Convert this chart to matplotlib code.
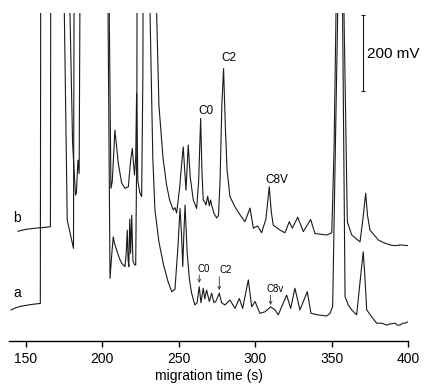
import matplotlib
matplotlib.use("Agg")
import matplotlib.pyplot as plt

plt.rcParams['font.family'] = ['Liberation Sans', 'DejaVu Sans']

# trace a (lower electropherogram): migration time (s), signal (mV)
a_t = [140.2, 143, 146, 150, 155, 159.4, 159.8, 174.5, 175.1, 177.0, 181.1, 181.8,
       202.5, 204.2, 205.0, 206, 207.1, 208, 209.4, 211, 212.6, 214.8, 215.6, 216.3,
       216.8, 217.3, 217.9, 218.5, 219.2, 220, 221, 221.8, 222.5, 223.0, 230.5, 231.2,
       233, 234.4, 237, 240, 243, 245.4, 247.5, 249.5, 250.8, 251.8, 252.6, 253.4,
       254.1, 255.5, 257, 258.4, 260.5, 262, 263.4, 264.5, 266, 267, 268.2, 270,
       271.5, 273, 274.5, 276.5, 278, 280.2, 283.5, 286.8, 289.6, 291.8, 295.5, 297.7,
       299.9, 303.1, 306.4, 310.1, 313.0, 315.1, 320.6, 323.2, 326.0, 329.3, 334.1, 336.5,
       341, 346.8, 349.0, 350.7, 352.0, 354, 355.5, 357.2, 358.8, 360.9, 363.2, 366.4,
       368.5, 370.7, 371.6, 373.0, 376.2, 379.5, 382.8, 386.1, 388.2, 391.5, 393, 394.8,
       396.5, 398.0, 400.2]
a_v = [81, 86, 90, 93, 96, 98, 1500, 1500, 863, 317, 243, 1500,
       1500, 600, 164, 220, 273, 255, 238, 218, 204, 195, 230, 291,
       215, 195, 320, 230, 330, 210, 200, 199, 500, 1500, 1500, 863,
       480, 344, 260, 200, 155, 129, 135, 250, 348, 280, 195, 290,
       357, 230, 160, 125, 94, 100, 142, 100, 138, 110, 133, 103,
       125, 100, 105, 125, 100, 94, 107, 85, 111, 85, 160, 89,
       103, 72, 76, 89, 81, 68, 120, 85, 138, 81, 129, 72,
       68, 65, 72, 90, 400, 863, 1500, 863, 116, 94, 81, 68,
       150, 234, 180, 81, 63, 46, 46, 41, 44, 46, 41, 41,
       46, 46, 50]

# trace b (upper electropherogram)
b_t = [144.8, 150, 156, 162, 166.0, 166.4, 178.0, 178.8, 180.5, 182.4, 183, 184,
       184.8, 186, 203.5, 204.5, 205.6, 206.5, 208.2, 210.4, 212.6, 214.8, 217.0, 218.5,
       219.6, 220.2, 221.0, 221.8, 222.4, 223.2, 224.5, 225.7, 226.5, 227, 235, 235.5,
       237, 239.7, 242, 244, 246.4, 247.5, 248.6, 250.5, 252.0, 252.9, 254.7, 256.2,
       257.5, 259.5, 261.7, 263, 264.3, 265.2, 266, 267, 267.8, 268.9, 270, 270.8,
       271.5, 273, 274.8, 276, 277, 278.2, 279.3, 280.5, 281.6, 283.5, 286.8, 290.1,
       293.3, 296.6, 298.8, 301.6, 304.2, 307, 309.2, 310.5, 311.8, 316.2, 319.5, 322.3,
       324.3, 327.8, 331.5, 336.3, 339.1, 346.8, 350.1, 351.6, 352.9, 355, 358.1, 360.3,
       363.2, 368.6, 370.5, 372.3, 373.5, 375.1, 380.6, 384, 388.2, 391.5, 395, 400.2]
b_v = [288, 293, 296, 298, 300, 1500, 1500, 863, 520, 383, 390, 475,
       440, 1500, 1500, 863, 401, 420, 554, 467, 415, 401, 405, 475,
       506, 475, 436, 480, 651, 420, 390, 379, 700, 1500, 1500, 863,
       620, 480, 410, 370, 344, 350, 336, 400, 470, 510, 396, 515,
       430, 370, 348, 420, 585, 440, 370, 365, 357, 380, 355, 370,
       357, 335, 323, 330, 420, 620, 716, 560, 449, 379, 352, 331,
       313, 349, 296, 302, 284, 320, 405, 340, 304, 291, 284, 313,
       296, 325, 287, 319, 282, 278, 284, 500, 863, 1500, 863, 313,
       278, 260, 320, 388, 330, 291, 265, 258, 252, 250, 252, 250]

fig = plt.figure(figsize=(4.25, 3.92), dpi=100)
ax = fig.add_axes([0.0212, 0.1309, 0.9388, 0.8367])
ax.plot(a_t, a_v, color='#1a1a1a', linewidth=0.8)
ax.plot(b_t, b_v, color='#1a1a1a', linewidth=0.8)
ax.set_xlim(138.9, 400)
ax.set_ylim(0, 863)

for s in ['left', 'right', 'top']:
    ax.spines[s].set_visible(False)
ax.spines['bottom'].set_linewidth(1.0)
ax.set_yticks([])
ax.set_xticks([150, 200, 250, 300, 350, 400])
ax.tick_params(axis='x', direction='out', length=4.5, width=1.0, labelsize=10, pad=4)
ax.set_xlabel("migration time (s)", fontsize=10, labelpad=2)

# trace labels
ax.text(144.1, 323, "b", fontsize=10, ha='center', va='center')
ax.text(144.1, 126, "a", fontsize=10, ha='center', va='center')

# peak labels on b
ax.text(267.8, 605, "C0", fontsize=8.5, ha='center', va='center')
ax.text(282.9, 743, "C2", fontsize=8.5, ha='center', va='center')
ax.text(313.9, 423, "C8V", fontsize=8.5, ha='center', va='center')

# peak labels with arrows on a
arrow = dict(arrowstyle='->', lw=0.6, color='#333333', mutation_scale=5, shrinkA=0, shrinkB=0)
ax.text(266.5, 189, "C0", fontsize=7, ha='center', va='center')
ax.annotate("", xy=(263.4, 152), xytext=(263.4, 173), arrowprops=arrow)
ax.text(280.6, 186, "C2", fontsize=7, ha='center', va='center')
ax.annotate("", xy=(276.5, 133), xytext=(276.5, 168), arrowprops=arrow)
ax.text(313.3, 136, "C8v", fontsize=7, ha='center', va='center')
ax.annotate("", xy=(310.1, 94), xytext=(310.1, 120), arrowprops=arrow)

# 200 mV scale bar
ax.plot([370.4, 370.4], [657, 857], color='#1a1a1a', linewidth=0.8,
        marker='_', markersize=3, markeredgewidth=0.8)
ax.text(373.0, 754, "200 mV", fontsize=11, ha='left', va='center')

plt.savefig('out.png', dpi=100)
